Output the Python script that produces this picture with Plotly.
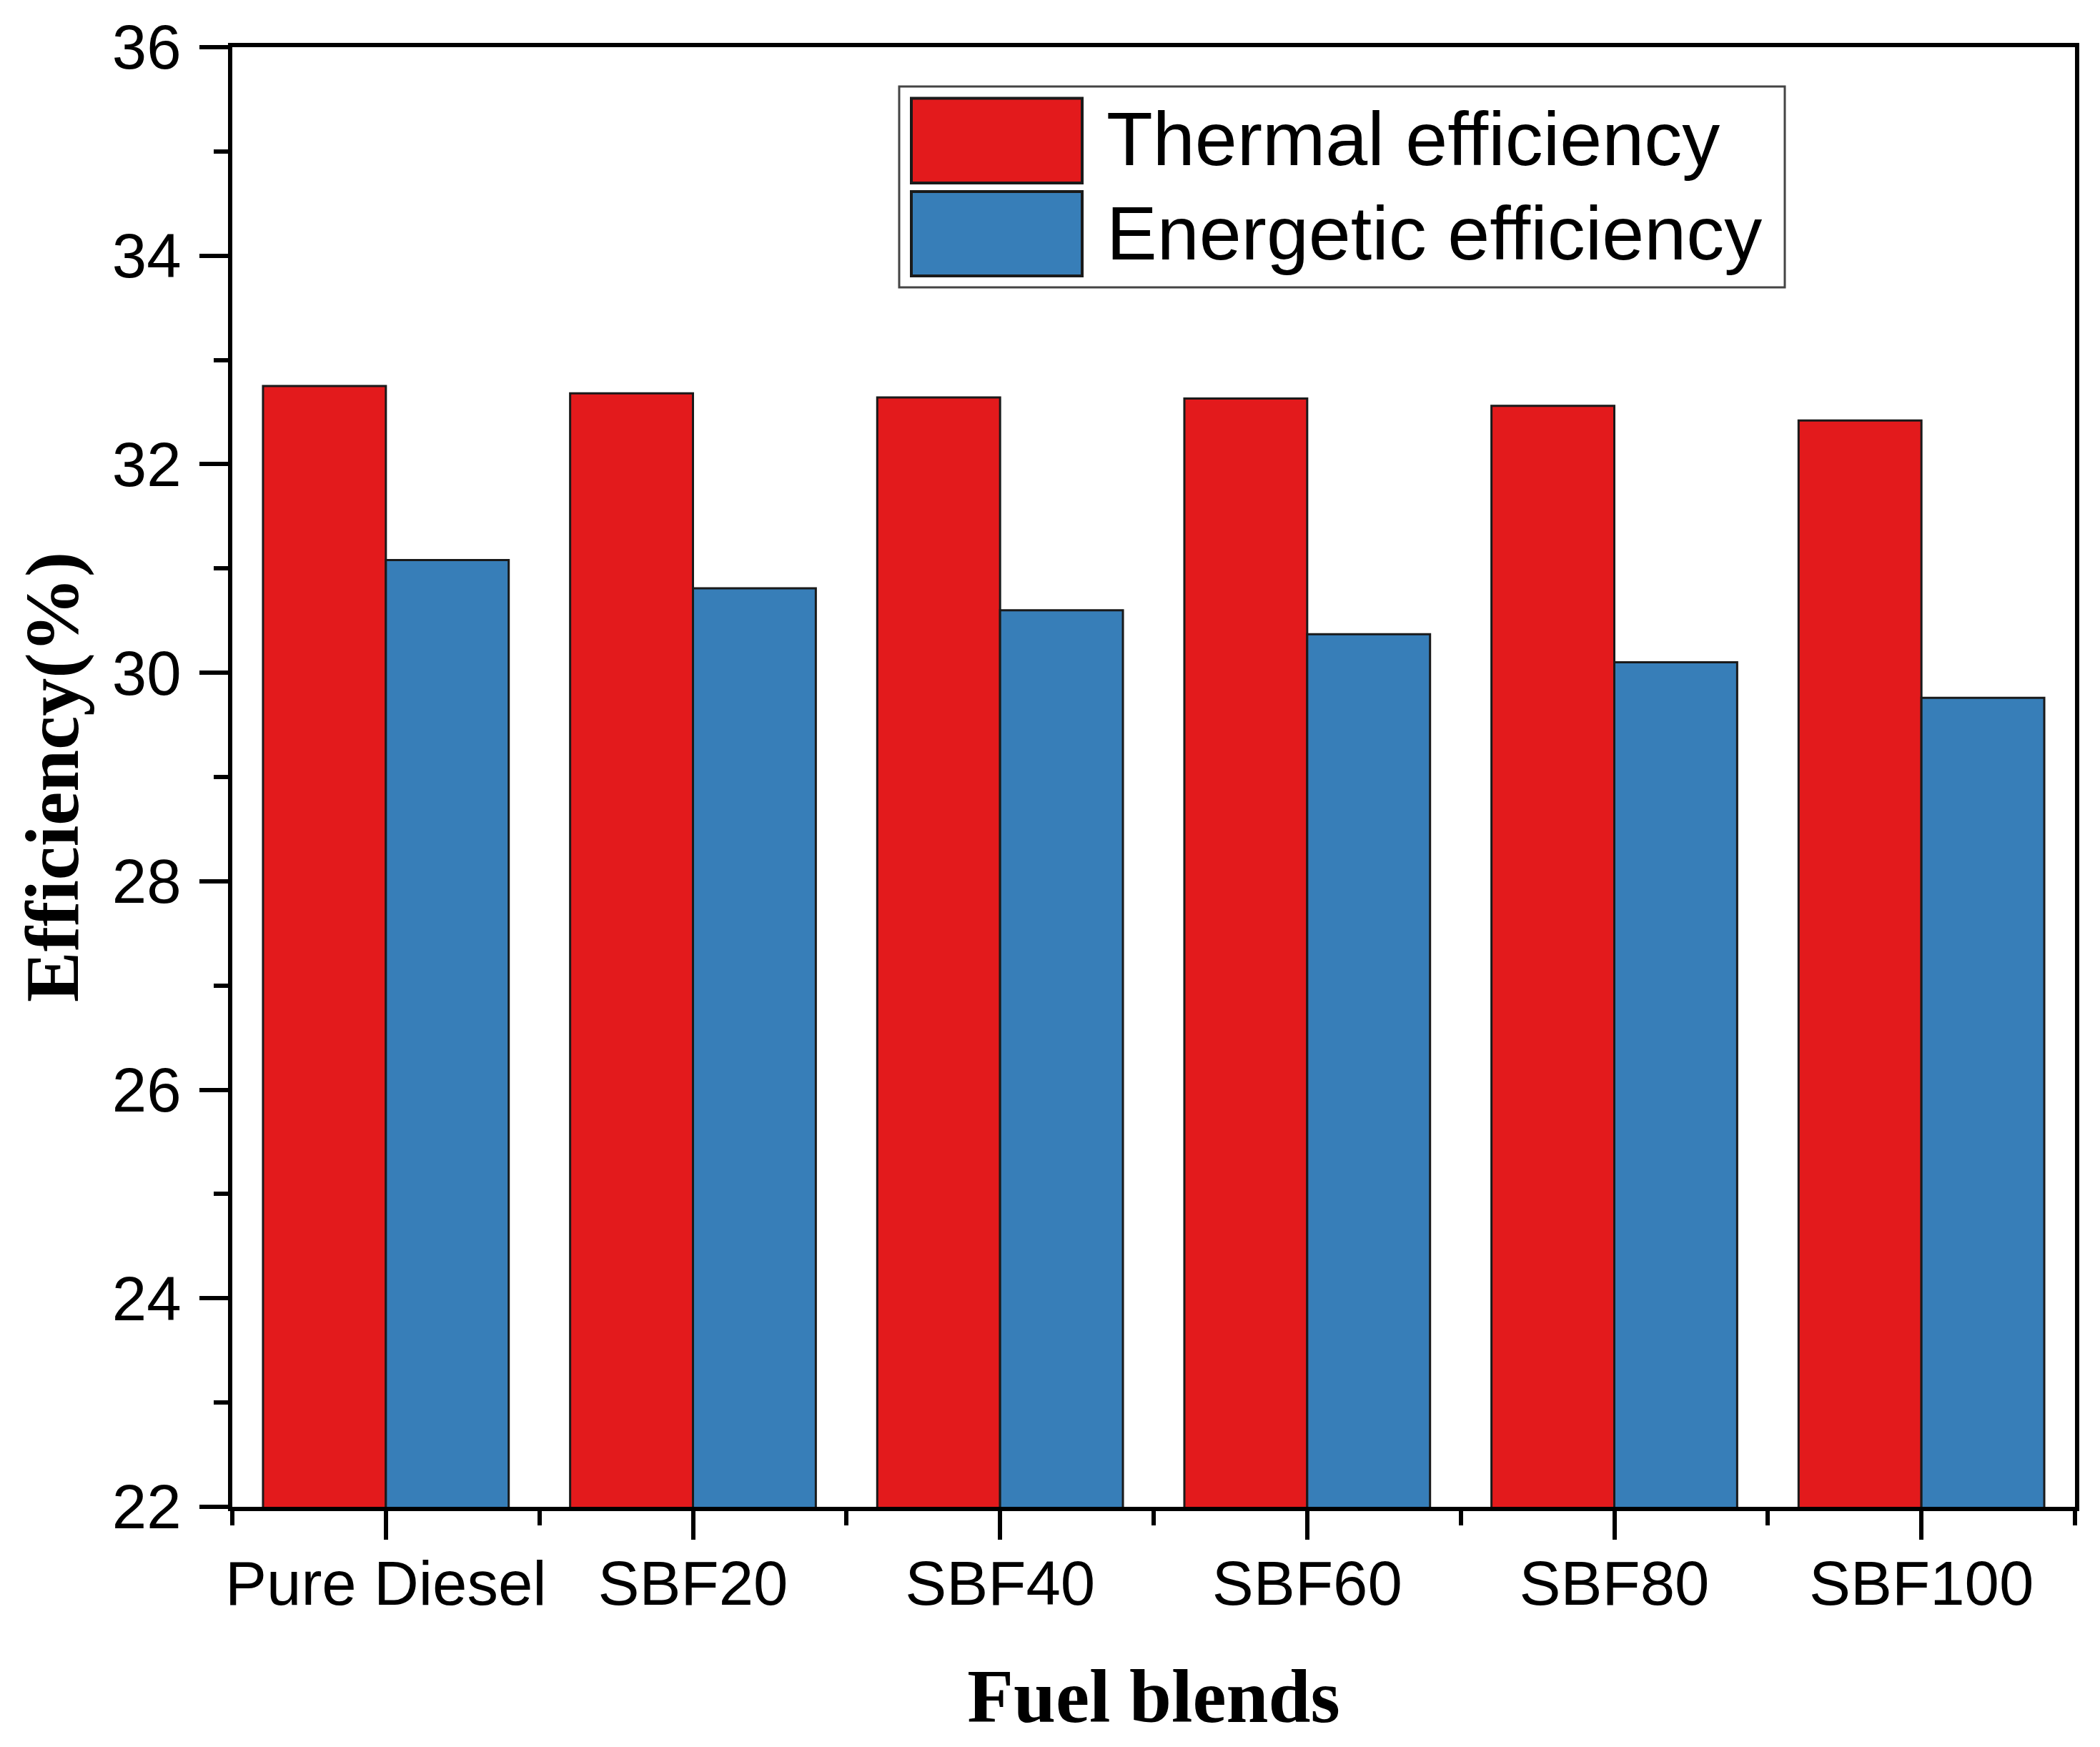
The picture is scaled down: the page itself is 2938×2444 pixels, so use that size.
import plotly.graph_objects as go

categories = ["Pure Diesel", "SBF20", "SBF40", "SBF60", "SBF80", "SBF100"]
thermal = [32.75, 32.68, 32.64, 32.63, 32.56, 32.42]
energetic = [31.08, 30.81, 30.60, 30.37, 30.10, 29.76]
series_names = ["Thermal efficiency", "Energetic efficiency"]
series_colors = ["#E31A1C", "#377EB8"]
y_ticks = [22, 24, 26, 28, 30, 32, 34, 36]

# The page body has an 8px default margin; size the figure so it fits the window exactly.
OFF = 8
W, H = 2938 - 2 * OFF, 2444 - 2 * OFF
ML, MT = 325 - OFF, 66 - OFF
MR = W - (2903 - OFF)
MB = H - (2108 - OFF)

xs = list(range(len(categories)))
fig = go.Figure()
for name, vals, col in zip(series_names, [thermal, energetic], series_colors):
    fig.add_trace(go.Bar(
        x=xs, y=vals, name=name,
        marker=dict(color=col, line=dict(color="#1a1a1a", width=3)),
        showlegend=False,
    ))

tick_font = dict(family="Liberation Sans, Arial, sans-serif", size=87, color="black")
title_font = dict(family="Liberation Serif, Times New Roman, serif", size=106, color="black")

fig.update_layout(
    width=W, height=H,
    margin=dict(l=ML, r=MR, t=MT, b=MB, autoexpand=False),
    paper_bgcolor="white", plot_bgcolor="white",
    barmode="group", bargap=0.2, bargroupgap=0,
    xaxis=dict(
        range=[-0.5, len(categories) - 0.5],
        tickmode="array", tickvals=xs, ticktext=categories,
        ticks="outside", ticklen=40, tickwidth=6, tickcolor="black",
        showline=True, linewidth=6, linecolor="black", mirror=True,
        showgrid=False, zeroline=False,
        tickfont=tick_font, ticklabelstandoff=-13,
        minor=dict(tickmode="array", tickvals=[i - 0.5 for i in range(len(categories) + 1)],
                   ticks="outside", ticklen=20, tickwidth=6, tickcolor="black", showgrid=False),
        title=dict(text="<b>Fuel blends</b>", font=title_font, standoff=74),
        automargin=False,
    ),
    yaxis=dict(
        range=[22, 36],
        tickmode="array", tickvals=y_ticks,
        ticks="outside", ticklen=40, tickwidth=6, tickcolor="black",
        showline=True, linewidth=6, linecolor="black", mirror=True,
        showgrid=False, zeroline=False,
        tickfont=tick_font, ticklabelstandoff=8,
        minor=dict(tickmode="linear", tick0=22, dtick=1,
                   ticks="outside", ticklen=20, tickwidth=6, tickcolor="black", showgrid=False),
        title=dict(text="<b>Efficiency(%)</b>", font=title_font, standoff=14),
        automargin=False,
    ),
)

# Legend drawn manually (large swatches as in the reference); positions in reference pixels
pw = W - ML - MR
ph = H - MT - MB
def px_x(p):
    return (p - OFF - ML) / pw
def px_y(p):
    return (H - MB - (p - OFF)) / ph

fig.add_shape(type="rect", xref="paper", yref="paper",
              x0=px_x(1258), x1=px_x(2497), y0=px_y(402), y1=px_y(121),
              line=dict(color="#444444", width=3), fillcolor="white", layer="above")
sw_rows = [(137.5, 256, 194), (268, 386, 326)]
for (top, bot, mid), name, col in zip(sw_rows, series_names, series_colors):
    fig.add_shape(type="rect", xref="paper", yref="paper",
                  x0=px_x(1275), x1=px_x(1514), y0=px_y(bot), y1=px_y(top),
                  line=dict(color="#1a1a1a", width=4), fillcolor=col, layer="above")
    fig.add_annotation(xref="paper", yref="paper", x=px_x(1546), y=px_y(mid),
                       xanchor="left", yanchor="middle", showarrow=False,
                       text=name,
                       font=dict(family="Liberation Sans, Arial, sans-serif", size=106, color="black"))

fig.write_html("out.html")
